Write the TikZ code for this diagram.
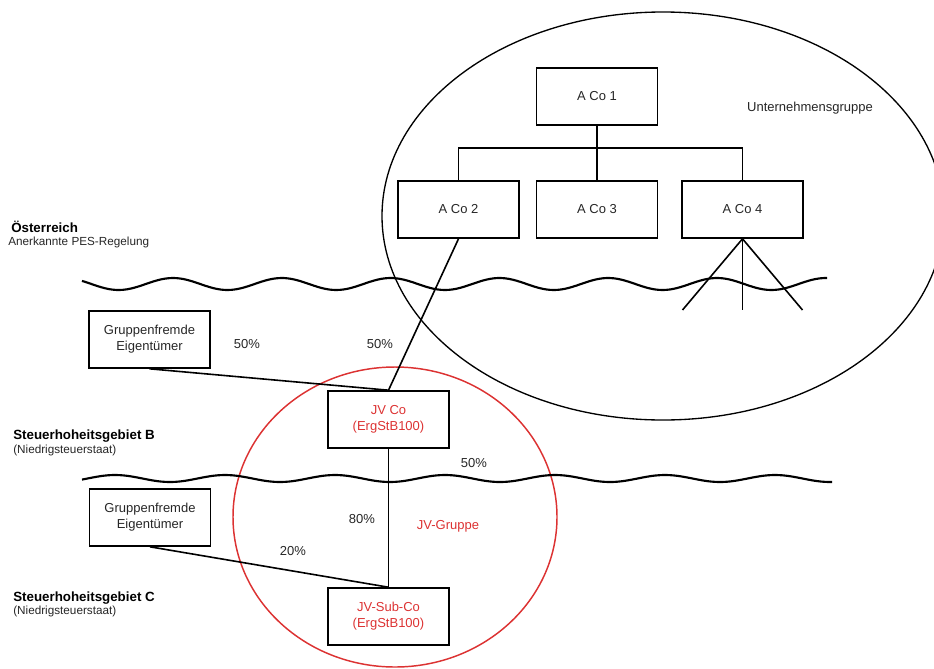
\documentclass[tikz,border=0pt]{standalone}
\usepackage{fontspec}
\setmainfont{Liberation Sans}
\definecolor{jvred}{RGB}{220,50,50}
\begin{document}
\begin{tikzpicture}[x=0.75pt,y=-0.75pt,
    co/.style={draw,line width=1.2pt,minimum width=90.75pt,minimum height=42.75pt,
      inner sep=0pt,align=center,text=black!85,font=\fontsize{9.75}{12}\selectfont},
    lbl/.style={text=black!85,font=\fontsize{9.75}{12}\selectfont},
    head/.style={anchor=base west,inner sep=0pt,font=\fontsize{10}{12}\bfseries\selectfont},
    sub/.style={anchor=base west,inner sep=0pt,text=black!85,font=\fontsize{8.8}{10}\selectfont},
    link/.style={line width=1.2pt},
    wave/.style={line width=1.6pt}]
  \useasboundingbox (0,0) rectangle (934,668);
  \draw[line width=1pt] (663,216) ellipse [x radius=281,y radius=204];
  \draw[jvred,line width=1.1pt] (395,517) ellipse [x radius=162,y radius=150];
  \draw[wave] plot[domain=82:827,samples=200] (\x,{284-6*cos(3.3088*(\x-173))});
  \draw[wave] plot[domain=82:832,samples=200] (\x,{478.5-3.5*cos(3.2727*(\x-115))});
  \node[co] (aco1) at (597,96.5) {A Co 1};
  \foreach \n/\px in {2/458.5,3/597,4/742.5}
    \node[co] (aco\n) at (\px,209.5) {A Co \n};
  \node[co] (gfb) at (149.5,339.5) {Gruppenfremde\\Eigentümer};
  \node[co] (gfc) at (150,517.5) {Gruppenfremde\\Eigentümer};
  \node[co,text=jvred] (jvco) at (388.5,419.5) {JV Co\\(ErgStB100)};
  \node[co,text=jvred] (jvsub) at (388.5,616.5) {JV-Sub-Co\\(ErgStB100)};
  \coordinate (bar) at (597,148);
  \draw[link] (aco1.south) -- (aco3.north);
  \draw[link] (aco2.north) |- (bar) -| (aco4.north);
  \foreach \dx [count=\i] in {-60,0,60}{
    \coordinate (leg\i) at (742.5+\dx,310);
    \draw[link] (aco4.south) -- (leg\i);
  };
  \draw[link] (aco2.south) -- (jvco.north);
  \draw[link] (gfb.south) -- (jvco.north);
  \draw[link] (jvco) -- (jvsub);
  \draw[link] (gfc.south) -- (jvsub.north);
  \node[lbl] (pgfb) at (247,344) {50\%};
  \node[lbl] (paco) at (380,344) {50\%};
  \node[lbl] (pjv) at (474,463) {50\%};
  \node[lbl] (psub) at (362,519) {80\%};
  \node[lbl] (pgfc) at (293,551) {20\%};
  \node[lbl,text=jvred] (jvg) at (448,526) {JV-Gruppe};
  \node[lbl] (ug) at (810,108) {Unternehmensgruppe};
  \node[head] (at) at (11,232) {Österreich};
  \node[sub] (atsub) at (8,245) {Anerkannte PES-Regelung};
  \node[head] (stb) at (13,439) {Steuerhoheitsgebiet B};
  \node[sub] (stbsub) at (13,453) {(Niedrigsteuerstaat)};
  \node[head] (stc) at (13,601) {Steuerhoheitsgebiet C};
  \node[sub] (stcsub) at (13,614) {(Niedrigsteuerstaat)};
\end{tikzpicture}
\end{document}
